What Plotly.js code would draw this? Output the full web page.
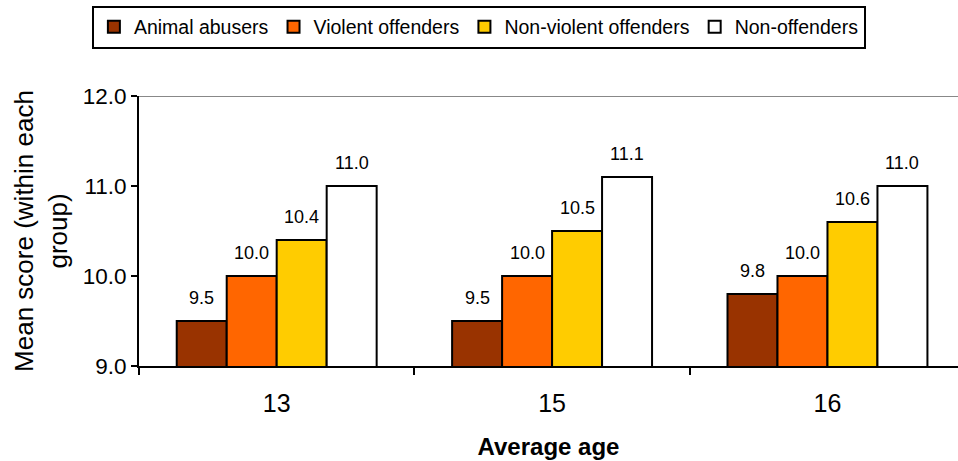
<!DOCTYPE html>
<html>
<head>
<meta charset="utf-8">
<script src="https://cdn.plot.ly/plotly-3.0.1.min.js"></script>
<style>html,body{margin:0;padding:0;background:#fff}#chart{width:958px;height:461px}</style>
</head>
<body>
<div id="chart"></div>
<script>
var categories = ["13", "15", "16"];
var seriesNames = ["Animal abusers", "Violent offenders", "Non-violent offenders", "Non-offenders"];
var animalAbusers = [9.5, 9.5, 9.8];
var violentOffenders = [10.0, 10.0, 10.0];
var nonViolentOffenders = [10.4, 10.5, 10.6];
var nonOffenders = [11.0, 11.1, 11.0];
var yTickVals = [9, 10, 11, 12];
var yTickText = ["9.0", "10.0", "11.0", "12.0"];

var seriesValues = [animalAbusers, violentOffenders, nonViolentOffenders, nonOffenders];
var colors = ["#993300", "#FF6600", "#FFCC00", "#FFFFFF"];
var bargap = 0.274;
var FONT = "Liberation Sans, Arial, sans-serif";

var traces = seriesValues.map(function (vals, i) {
  return {
    type: "bar",
    name: seriesNames[i],
    x: categories,
    y: vals,
    marker: {color: colors[i], line: {color: "#000", width: 2}},
    hoverinfo: "skip"
  };
});

var annotations = [];
var w = (1 - bargap) / 4;
seriesValues.forEach(function (vals, i) {
  var off = -(1 - bargap) / 2 + (i + 0.5) * w;
  vals.forEach(function (v, j) {
    annotations.push({
      x: j + off, y: v, xref: "x", yref: "y",
      text: v.toFixed(1), showarrow: false,
      yanchor: "bottom", yshift: 11,
      font: {family: FONT, size: 18, color: "#000"}
    });
  });
});

var layout = {
  width: 958, height: 461,
  margin: {l: 139, r: 0, t: 96, b: 95},
  paper_bgcolor: "#fff", plot_bgcolor: "#fff",
  font: {family: FONT, color: "#000"},
  barmode: "group", bargap: bargap, bargroupgap: 0,
  showlegend: true,
  legend: {
    orientation: "h", x: 0.415, xanchor: "center", y: 1.335, yanchor: "top",
    bordercolor: "#000", borderwidth: 2, bgcolor: "#fff",
    font: {size: 19.5}, itemwidth: 30, traceorder: "normal"
  },
  xaxis: {
    type: "category", range: [-0.5, 2.474],
    showline: true, linecolor: "#000", linewidth: 2,
    ticks: "outside", tickson: "boundaries", ticklen: 7, tickwidth: 2, tickcolor: "#000",
    tickfont: {size: 25}, ticklabelstandoff: 14, showgrid: false, zeroline: false,
    title: {text: "<b>Average age</b>", font: {size: 24}, standoff: 22}
  },
  yaxis: {
    range: [9, 12], tickvals: yTickVals, ticktext: yTickText,
    showline: true, linecolor: "#000", linewidth: 2,
    ticks: "outside", ticklen: 6, tickwidth: 2, tickcolor: "#000",
    tickfont: {size: 22.5}, showgrid: false, zeroline: false,
    title: {text: "Mean score (within each<br>group)", font: {size: 26}, standoff: 8}
  },
  shapes: [{
    type: "line", xref: "paper", yref: "y", x0: 0, x1: 1, y0: 12, y1: 12,
    line: {color: "#888", width: 2}
  }],
  annotations: annotations
};

Plotly.newPlot("chart", traces, layout, {displayModeBar: false, staticPlot: true});
</script>
</body>
</html>
